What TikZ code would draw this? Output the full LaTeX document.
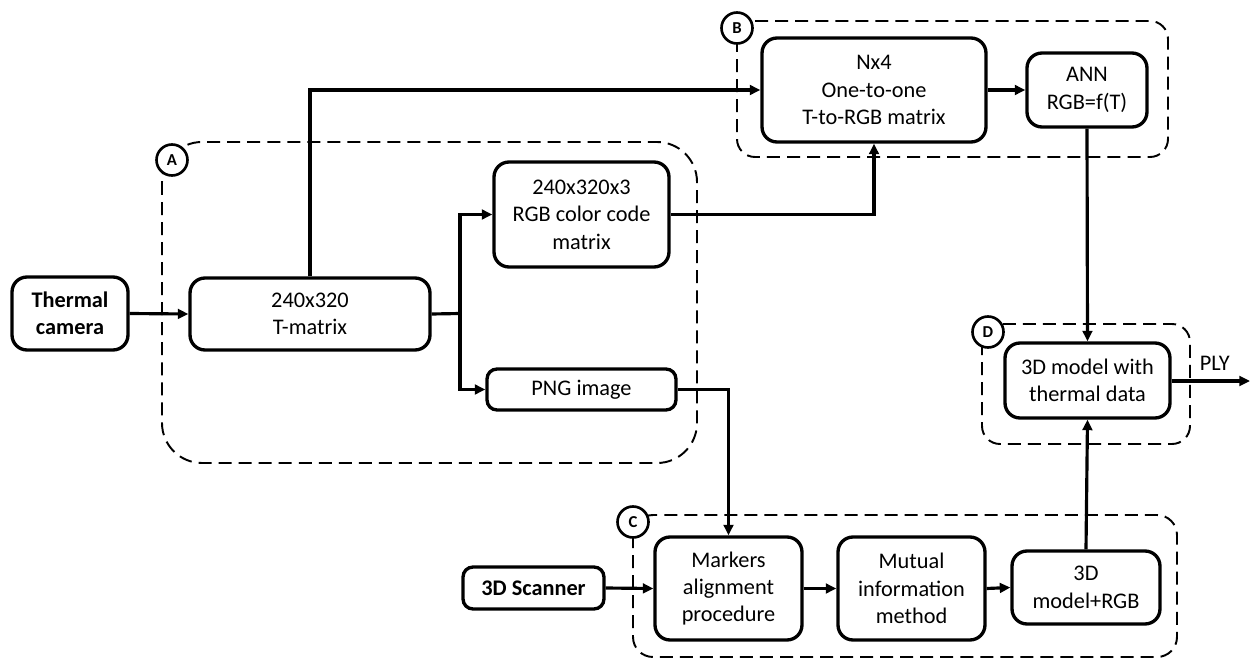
\documentclass[tikz,border=0pt]{standalone}
\usepackage{fontspec}
\setmainfont{Carlito}
\usetikzlibrary{arrows.meta}
\begin{document}
\begin{tikzpicture}[x=0.02cm, y=-0.02cm,
  every node/.style={font=\fontsize{12.7}{15.6}\selectfont},
  box/.style={draw, line width=1.9pt, rounded corners=0.3cm, align=center, inner sep=2pt, fill=white},
  conn/.style={line width=1.8pt, -{Triangle[length=6pt,width=5.5pt]}},
  plain/.style={line width=1.8pt},
  frame/.style={line width=1.1pt, dash pattern=on 7.4pt off 4pt},
  tag/.style={draw, circle, line width=1.5pt, fill=white, minimum size=0.62cm, inner sep=0pt, font=\fontsize{9.5}{10}\selectfont\bfseries}
]
\useasboundingbox (0,0) rectangle (1252,659);

% dashed frames
\draw[frame, rounded corners=0.8cm] (162,142) rectangle (697,463);
\draw[frame, rounded corners=0.36cm] (737,21) rectangle (1168,157);
\draw[frame, rounded corners=0.4cm] (633,515) rectangle (1177,657);
\draw[frame, rounded corners=0.36cm] (982,324) rectangle (1190,444);

% boxes
\node[box, minimum width=2.32cm, minimum height=1.46cm, font=\fontsize{12.7}{15.6}\selectfont\bfseries] (therm) at (70,313.5) {Thermal\\camera};
\node[box, minimum width=4.8cm, minimum height=1.44cm] (tmat) at (310,314) {240x320\\T-matrix};
\node[box, minimum width=3.5cm, minimum height=2.1cm] (rgb) at (581.5,214.5) {240x320x3\\RGB color code\\matrix};
\node[box, minimum width=3.78cm, minimum height=0.82cm, rounded corners=0.2cm] (png) at (581.5,389.5) {PNG image};
\node[box, minimum width=4.48cm, minimum height=2.08cm] (nx4) at (874,90) {Nx4\\One-to-one\\T-to-RGB matrix};
\node[box, minimum width=2.4cm, minimum height=1.48cm] (ann) at (1087,90) {ANN\\RGB=f(T)};
\node[box, minimum width=3.3cm, minimum height=1.5cm] (dbox) at (1087.5,380.5) {3D model with\\thermal data};
\node[box, minimum width=2.82cm, minimum height=0.84cm, rounded corners=0.2cm, font=\fontsize{12.7}{15.6}\selectfont\bfseries] (scan) at (533.5,588) {3D Scanner};
\node[box, minimum width=2.94cm, minimum height=2.06cm] (mark) at (728.5,588.5) {Markers\\alignment\\procedure};
\node[box, minimum width=2.94cm, minimum height=2.06cm] (mut) at (911.5,588.5) {Mutual\\information\\method};
\node[box, minimum width=2.96cm, minimum height=1.46cm] (model) at (1086,587.5) {3D\\model+RGB};

% tags
\node[tag] (ta) at (172,160) {A};
\node[tag] (tb) at (737,28) {B};
\node[tag] (tc) at (633,522) {C};
\node[tag] (td) at (988,332) {D};

% connectors
\coordinate (j) at (460,313.5);
\coordinate (ply) at (1250,381);
\draw[conn] (therm.east) -- (tmat.west);
\draw[plain] (tmat.east) -- (j);
\draw[conn] (j) |- (rgb.west);
\draw[conn] (j) |- (png.west);
\draw[conn] (tmat.north) |- (nx4.west);
\draw[conn] (rgb.east) -| (nx4.south);
\draw[conn] (nx4.east) -- (ann.west);
\draw[conn] (ann.south) -- (dbox.north);
\draw[conn] (model.north) -- (dbox.south);
\draw[conn] (dbox.east |- ply) -- node[above, pos=0.55, yshift=2pt] {PLY} (ply);
\draw[conn] (png.east) -| (mark.north);
\draw[conn] (scan.east) -- (mark.west);
\draw[conn] (mark.east) -- (mut.west);
\draw[conn] (mut.east) -- (model.west);
\end{tikzpicture}
\end{document}
